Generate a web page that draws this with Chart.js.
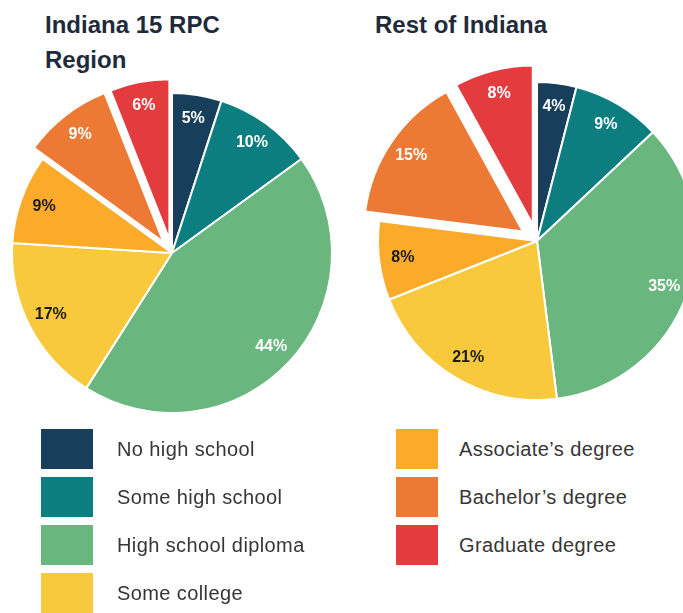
<!DOCTYPE html>
<html>
<head>
<meta charset="utf-8">
<script src="https://cdn.jsdelivr.net/npm/chart.js@4/dist/chart.umd.min.js"></script>
<style>
  html, body { margin: 0; padding: 0; background: #ffffff; }
  body { position: relative; width: 683px; height: 613px; overflow: hidden; font-family: "Liberation Sans", Arial, sans-serif; }
  .title { position: absolute; font-weight: bold; font-size: 24px; line-height: 35px; color: #1f2b3a; white-space: nowrap; }
  canvas { position: absolute; }
  .lg-box { position: absolute; }
  .lg-text { position: absolute; font-size: 20px; letter-spacing: 0.4px; color: #363636; line-height: 40px; white-space: nowrap; }
</style>
</head>
<body>
<div class="title" style="left:45px; top:7px;">Indiana 15 RPC<br>Region</div>
<div class="title" style="left:375px; top:7px;">Rest of Indiana</div>
<canvas id="left" width="344" height="360" style="left:0px; top:73px;"></canvas>
<canvas id="right" width="360" height="360" style="left:357px; top:61px;"></canvas>
<div id="legend"></div>
<script>
// ---- data ----
const categories = ["No high school", "Some high school", "High school diploma", "Some college", "Associate\u2019s degree", "Bachelor\u2019s degree", "Graduate degree"];
const regionValues = [5, 10, 44, 17, 9, 9, 6];
const restValues = [4, 9, 35, 21, 8, 15, 8];
const regionTitle = "Indiana 15 RPC Region";
const restTitle = "Rest of Indiana";

// ---- styling ----
const colors = ["#173f5b", "#0d7e80", "#69b67e", "#f8c93c", "#fbab29", "#ec7a35", "#e43b3f"];
const labelColors = ["#ffffff", "#ffffff", "#ffffff", "#1a1a1a", "#1a1a1a", "#ffffff", "#ffffff"];

// explode (pixel translation) for selected slices
const explodePlugin = {
  id: 'explode',
  afterDatasetUpdate(chart, args) {
    const d = chart.options.plugins.explode.amounts || [];
    args.meta.data.forEach((arc, i) => {
      const amt = d[i] || 0;
      if (!amt) return;
      const mid = (arc.startAngle + arc.endAngle) / 2;
      arc.x += Math.cos(mid) * amt;
      arc.y += Math.sin(mid) * amt;
    });
  }
};

const pctLabelPlugin = {
  id: 'pctLabels',
  afterDatasetsDraw(chart) {
    const ctx = chart.ctx;
    const meta = chart.getDatasetMeta(0);
    const values = chart.data.datasets[0].data;
    ctx.save();
    ctx.font = 'bold 16px "Liberation Sans", Arial, sans-serif';
    ctx.textAlign = 'center';
    ctx.textBaseline = 'middle';
    meta.data.forEach((arc, i) => {
      const mid = (arc.startAngle + arc.endAngle) / 2;
      const r = arc.outerRadius * 0.85;
      ctx.fillStyle = labelColors[i];
      ctx.fillText(values[i] + '%', arc.x + Math.cos(mid) * r, arc.y + Math.sin(mid) * r);
    });
    ctx.restore();
  }
};

function makePie(id, values, radius, explodeAmounts, title) {
  return new Chart(document.getElementById(id), {
    type: 'pie',
    data: {
      labels: categories,
      datasets: [{
        label: title,
        data: values,
        backgroundColor: colors,
        borderColor: '#ffffff',
        borderWidth: 2
      }]
    },
    options: {
      responsive: false,
      animation: false,
      radius: radius,
      layout: { padding: 0 },
      events: [],
      plugins: {
        legend: { display: false },
        tooltip: { enabled: false },
        title: { display: false },
        explode: { amounts: explodeAmounts }
      }
    },
    plugins: [explodePlugin, pctLabelPlugin]
  });
}

makePie('left', regionValues, 160, [0, 0, 0, 0, 0, 14, 14], regionTitle);
makePie('right', restValues, 159, [0, 0, 0, 0, 0, 17, 17], restTitle);

// ---- legend (HTML) ----
const legend = document.getElementById('legend');
const rowTops = [429, 477, 525, 573];
categories.forEach((c, i) => {
  const leftCol = i < 4;
  const row = leftCol ? i : i - 4;
  const box = document.createElement('div');
  box.className = 'lg-box';
  box.style.left = (leftCol ? 41 : 396) + 'px';
  box.style.top = rowTops[row] + 'px';
  box.style.width = (leftCol ? 52 : 42) + 'px';
  box.style.height = '40px';
  box.style.background = colors[i];
  legend.appendChild(box);
  const t = document.createElement('div');
  t.className = 'lg-text';
  t.style.left = (leftCol ? 117 : 459) + 'px';
  t.style.top = rowTops[row] + 'px';
  t.textContent = c;
  legend.appendChild(t);
});
</script>
</body>
</html>
